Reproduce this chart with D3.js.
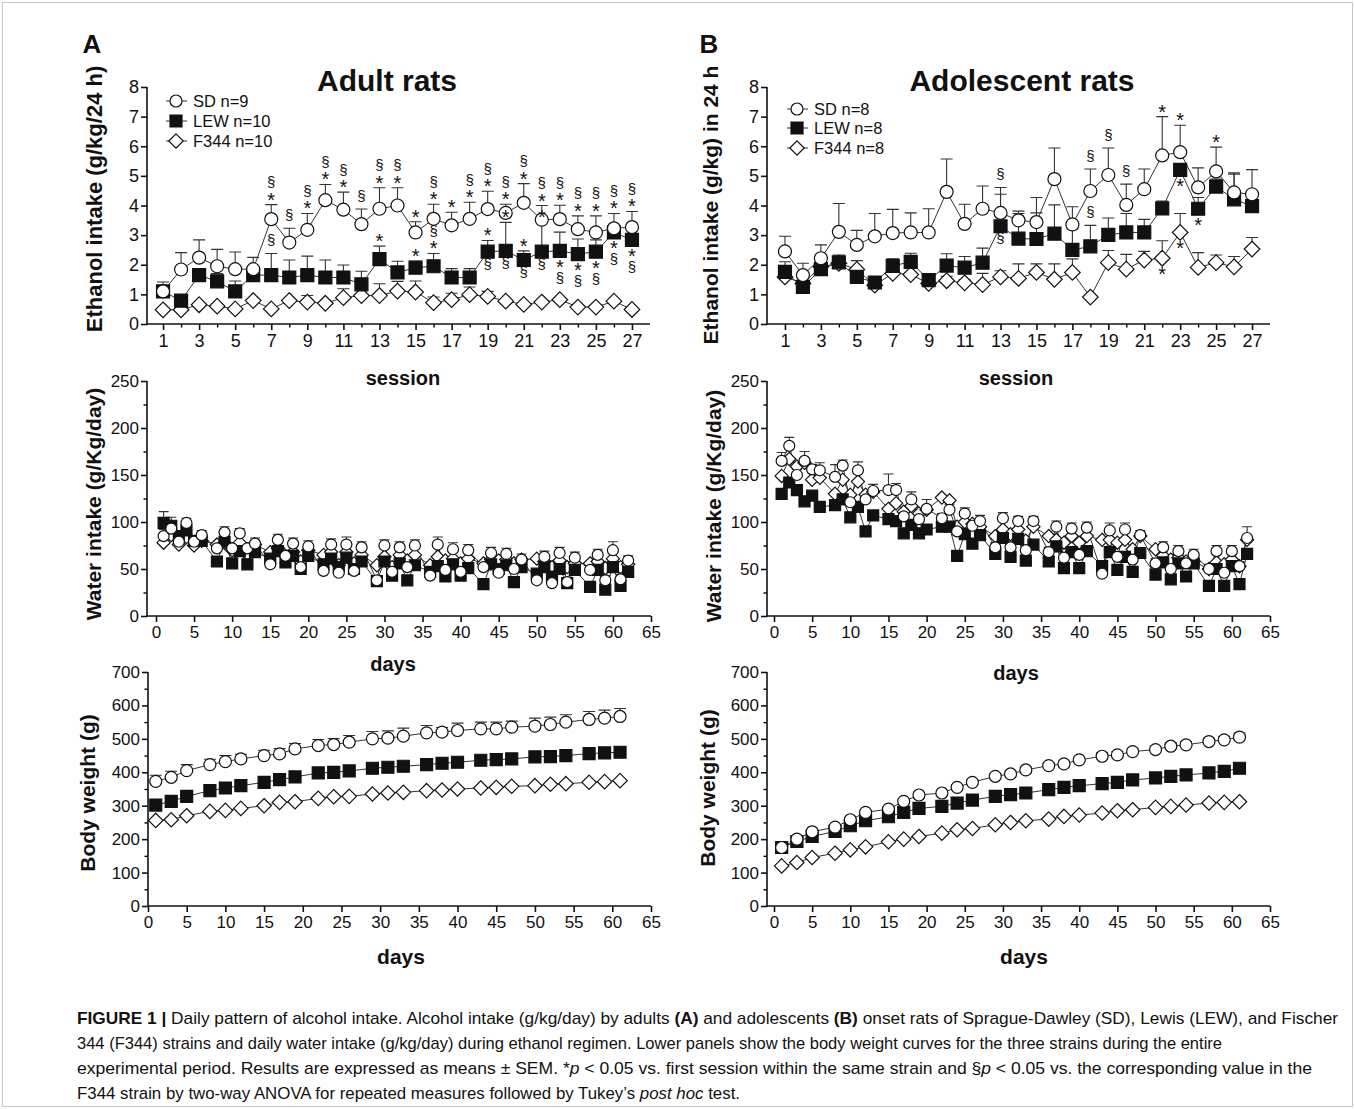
<!DOCTYPE html>
<html>
<head>
<meta charset="utf-8">
<script src="https://cdnjs.cloudflare.com/ajax/libs/d3/7.8.5/d3.min.js"></script>
<style>
body { margin: 0; background: #fff; }
svg text { font-family: "Liberation Sans", Arial, sans-serif; fill: #111; }
</style>
</head>
<body>
<div id="fig"></div>
<script>
// figure size
const W = 1355, H = 1109;

// ---- ethanol sessions ----
const sessions = [1,2,3,4,5,6,7,8,9,10,11,12,13,14,15,16,17,18,19,20,21,22,23,24,25,26,27];
const sessionTicks = [1,3,5,7,9,11,13,15,17,19,21,23,25,27];

// adult ethanol intake (g/kg/24 h), mean and SEM
const adultSD   = [1.10,1.84,2.24,1.95,1.85,1.85,3.54,2.75,3.18,4.18,3.86,3.37,3.89,4.00,3.09,3.55,3.33,3.55,3.88,3.75,4.09,3.52,3.54,3.20,3.09,3.23,3.27];
const adultSDe  = [0.32,0.57,0.60,0.57,0.58,0.40,0.49,0.48,0.55,0.53,0.59,0.51,0.71,0.60,0.36,0.49,0.44,0.56,0.60,0.29,0.65,0.48,0.47,0.45,0.56,0.50,0.53];
const adultLEW  = [1.10,0.79,1.65,1.44,1.10,1.65,1.65,1.57,1.65,1.57,1.57,1.34,2.19,1.74,1.90,1.95,1.57,1.57,2.44,2.47,2.16,2.44,2.47,2.36,2.44,3.09,2.84];
const adultLEWe = [0.00,0.00,0.19,0.26,0.35,0.05,0.73,0.59,0.64,0.59,0.42,0.44,0.44,0.38,0.22,0.43,0.30,0.30,0.38,0.96,0.31,0.99,0.63,0.51,0.40,0.11,0.00];
const adultF344 = [0.48,0.48,0.65,0.60,0.51,0.79,0.51,0.79,0.74,0.70,0.89,0.96,0.96,1.11,1.08,0.72,0.82,0.99,0.93,0.77,0.66,0.74,0.82,0.57,0.57,0.77,0.49];
const adultF344e= [0.00,0.00,0.00,0.00,0.00,0.00,0.00,0.00,0.22,0.00,0.30,0.00,0.40,0.33,0.37,0.19,0.22,0.26,0.17,0.00,0.00,0.00,0.00,0.00,0.00,0.00,0.00];

// adolescent ethanol intake (g/kg in 24 h)
const adolSD    = [2.45,1.65,2.22,3.11,2.67,2.96,3.07,3.09,3.09,4.46,3.38,3.89,3.75,3.50,3.44,4.89,3.36,4.49,5.03,4.02,4.55,5.69,5.80,4.61,5.15,4.44,4.38];
const adolSDe   = [0.51,0.40,0.45,0.96,0.49,0.77,0.80,0.66,0.80,1.11,0.66,0.77,0.86,0.31,0.83,1.05,0.60,0.74,0.91,0.70,0.68,1.31,0.91,0.66,0.82,0.66,0.83];
const adolLEW   = [1.76,1.25,1.85,2.08,1.59,1.40,1.96,2.10,1.48,1.97,1.90,2.07,3.30,2.88,2.87,3.05,2.50,2.62,3.01,3.09,3.09,3.90,5.20,3.89,4.64,4.21,3.98];
const adolLEWe  = [0.34,0.00,0.31,0.25,0.00,0.19,0.24,0.29,0.11,0.40,0.38,0.49,1.08,0.85,0.88,0.97,0.71,0.71,0.57,0.64,0.44,0.25,0.15,0.38,0.25,0.85,0.00];
const adolF344  = [1.59,1.37,1.93,2.05,1.84,1.31,1.71,1.67,1.37,1.46,1.39,1.33,1.59,1.54,1.74,1.51,1.74,0.91,2.07,1.85,2.16,2.22,3.09,1.91,2.07,1.93,2.53];
const adolF344e = [0.00,0.00,0.00,0.10,0.30,0.00,0.00,0.00,0.00,0.15,0.10,0.38,0.21,0.49,0.29,0.52,0.46,0.00,0.41,0.50,0.29,0.59,0.64,0.50,0.26,0.35,0.39];

// significance marks: [session, marks from top to bottom]
const adultSDAbove  = [[7,"§*"],[8,"§"],[9,"§*"],[10,"§*"],[11,"§*"],[12,"§"],[13,"§*"],[14,"§*"],[15,"*"],[16,"§*"],[17,"*"],[18,"§*"],[19,"§*"],[20,"§*"],[21,"§*"],[22,"§*"],[23,"§*"],[24,"§*"],[25,"§*"],[26,"§*"],[27,"§*"]];
const adultLEWAbove = [[7,"§"],[13,"*"],[15,"*"],[16,"§*"],[19,"*"],[20,"*"],[21,"*"],[22,"*"]];
const adultLEWBelow = [[19,"§"],[20,"§"],[21,"§"],[22,"§"],[23,"*§"],[24,"*§"],[25,"*§"],[26,"*§"],[27,"*§"]];
const adolSDAbove   = [[13,"§"],[18,"§"],[19,"§"],[20,"§"],[22,"*"],[23,"*"],[25,"*"]];
const adolLEWAbove  = [[18,"§"]];
const adolLEWBelow  = [[13,"§"],[23,"*"],[24,"*"]];
const adolF344Below = [[22,"*"],[23,"*"]];

// ---- water intake (g/Kg/day) ----
const waterDays = [1,2,3,4,5,6, 8,9,10,11,12,13, 15,16,17,18,19,20, 22,23,24,25,26,27,
                   29,30,31,32,33,34, 36,37,38,39,40,41, 43,44,45,46,47,48, 50,51,52,53,54,55, 57,58,59,60,61,62];
const adultWaterSD = [85,93,79,99,79,86, 72,89,72,88,72,77, 55,81,64,77,52,74, 48,76,46,76,48,73,
                      38,75,47,73,52,75, 43,76,49,71,47,70, 52,67,46,66,50,60, 38,63,35,67,36,62, 49,65,38,70,39,59];
const adultWaterSDe = [7,6,5,5,5,5, 6,6,6,5,6,6, 5,6,5,6,5,6, 5,6,5,8,5,6,
                       5,6,5,6,5,6, 5,8,5,7,5,6, 5,6,5,6,5,6, 5,6,5,6,5,6, 5,6,5,9,5,5];
const adultWaterLEW = [99,96,85,91,80,80, 58,79,56,69,55,68, 61,69,57,64,50,64, 55,61,52,62,50,58,
                       37,58,43,56,38,54, 47,53,42,55,43,51, 34,55,50,54,36,52, 45,52,42,50,35,49, 31,49,28,52,32,47];
const adultWaterLEWe = [12,9,0,0,0,4, 0,0,0,0,0,0, 0,0,0,0,0,0, 0,0,0,0,0,0,
                        0,0,0,0,0,0, 0,0,0,0,0,0, 0,0,0,0,0,0, 0,0,0,0,0,0, 0,0,0,0,0,0];
const adultWaterF344 = [78,86,76,84,75,80, 76,78,70,78,66,76, 68,72,64,68,58,70, 65,68,54,68,56,65,
                        54,63,52,65,59,65, 54,63,59,61,56,61, 56,60,59,60,56,60, 61,58,52,59,52,56, 56,58,51,61,52,55];
const adolWaterSD = [165,181,150,165,156,155, 148,160,121,155,124,133, 134,134,106,124,103,114, 104,113,90,109,96,101,
                     73,104,73,101,70,101, 68,95,62,93,65,94, 45,91,63,92,60,86, 56,73,50,69,56,65, 50,69,46,69,53,83];
const adolWaterSDe = [9,9,6,10,5,8, 13,6,6,9,5,7, 17,7,5,8,5,10, 5,6,5,6,5,6,
                      5,6,5,5,5,5, 5,6,5,6,5,6, 5,8,5,7,5,5, 5,6,5,6,5,6, 5,6,5,6,5,12];
const adolWaterLEW = [130,142,134,122,128,116, 118,124,105,116,90,107, 103,101,88,97,88,92, 95,95,64,87,77,86,
                      66,83,63,82,59,76, 58,74,51,68,51,69, 53,68,49,63,47,67, 44,57,39,56,42,56, 32,50,32,53,34,66];
const adolWaterF344 = [149,167,159,163,145,147, 130,145,129,143,129,132, 114,120,111,117,109,113, 126,123,95,100,98,95,
                       85,92,87,92,80,95, 85,81,78,85,78,85, 81,81,78,81,71,85, 71,64,60,62,58,58, 50,57,55,60,53,81];

// ---- body weight (g) ----
const weightDays = [1,3,5,8,10,12,15,17,19,22,24,26,29,31,33,36,38,40,43,45,47,50,52,54,57,59,61];
const adultBwSD   = [373,385,405,423,432,440,450,455,470,480,483,490,500,502,508,518,520,525,530,530,535,538,543,550,558,562,567];
const adultBwSDe  = [18,18,18,16,18,14,16,16,16,18,18,20,22,22,24,22,14,22,20,20,18,24,22,22,24,24,24];
const adultBwLEW  = [302,313,328,345,353,360,370,378,386,398,400,404,412,415,418,423,427,430,436,438,440,446,447,450,456,458,460];
const adultBwF344 = [256,258,270,283,286,292,300,310,312,322,327,328,335,338,340,345,347,350,353,355,358,360,364,366,370,372,375];
const adolBwSD    = [175,200,222,236,258,280,290,313,332,338,355,370,388,395,407,420,425,437,448,452,462,468,478,482,492,497,505];
const adolBwSDe   = [8,6,6,6,6,6,6,6,6,6,8,8,8,8,8,8,8,8,10,10,10,10,10,10,10,10,12];
const adolBwLEW   = [175,193,208,223,240,255,267,280,292,298,308,317,328,333,338,348,355,360,366,370,377,383,388,392,398,403,412];
const adolBwF344  = [120,130,145,158,168,177,192,200,208,218,228,232,243,250,255,260,268,272,278,285,288,295,298,302,308,310,312];

const dayTicks = [0,5,10,15,20,25,30,35,40,45,50,55,60,65];
const zeros27 = sessions.map(() => 0);
const zeros54 = waterDays.map(() => 0);

const svg = d3.select("#fig").append("svg")
    .attr("width", W)
    .attr("height", H);

svg.append("rect")
    .attr("x", 2.5).attr("y", 2.5)
    .attr("width", W - 5).attr("height", H - 5)
    .attr("fill", "none")
    .attr("stroke", "#c8c8c8");

// marker shapes
function symbolPath(kind, s) {
    if (kind === "square") return `M${-s},${-s}H${s}V${s}H${-s}Z`;
    if (kind === "diamond") { const d = s * 1.2; return `M0,${-d}L${d},0L0,${d}L${-d},0Z`; }
    return d3.symbol(d3.symbolCircle, Math.PI * s * s)();
}

// one text per stack of marks, one tspan per character
function drawMarks(g, x, y, list, ys, errs, below) {
    list.forEach(([s, str]) => {
        const i = s - 1;
        const cx = x(s);
        const centers = [];
        if (!below) {
            let c = y(ys[i] + errs[i]);
            str.split("").reverse().forEach((ch, k) => {
                c = k === 0 ? c - (ch === "*" ? 8 : 12) : c - 13.5;
                centers.unshift([ch, c]);
            });
        } else {
            let c = y(ys[i]);
            str.split("").forEach((ch, k) => {
                c = c + (k === 0 ? 13 : 15);
                centers.push([ch, c]);
            });
        }
        const t = g.append("text").attr("text-anchor", "middle");
        centers.forEach(([ch, cy]) => {
            t.append("tspan")
                .attr("x", cx)
                .attr("y", ch === "*" ? cy + 10 : cy + 4)
                .attr("font-size", ch === "*" ? 20 : 15)
                .text(ch);
        });
    });
}

function drawPanel(p) {
    const x = d3.scaleLinear().domain(p.xDomain).range(p.xRange);
    const y = d3.scaleLinear().domain(p.yDomain).range(p.yRange);
    const g = svg.append("g");
    const y0 = y(0);

    // y axis ticks
    const yAx = g.append("g")
        .attr("transform", `translate(${p.axisX},0)`)
        .call(d3.axisLeft(y).tickValues(p.yTicks).tickSize(6).tickPadding(2).tickSizeOuter(0));
    if (p.yMinor) {
        g.append("g")
            .attr("transform", `translate(${p.axisX},0)`)
            .call(d3.axisLeft(y).tickValues(p.yMinor).tickSize(3.5).tickFormat("").tickSizeOuter(0))
            .call(a => a.select(".domain").remove())
            .selectAll("line").attr("stroke-width", 1.4);
    }
    // x axis ticks
    const xAx = g.append("g")
        .attr("transform", `translate(0,${y0})`)
        .call(d3.axisBottom(x).tickValues(p.xTicks).tickSize(6).tickPadding(4).tickSizeOuter(0));
    if (p.xMinor) {
        g.append("g")
            .attr("transform", `translate(0,${y0})`)
            .call(d3.axisBottom(x).tickValues(p.xMinor).tickSize(3.5).tickFormat("").tickSizeOuter(0))
            .call(a => a.select(".domain").remove())
            .selectAll("line").attr("stroke-width", 1.4);
    }
    [yAx, xAx].forEach(a => {
        a.select(".domain").remove();
        a.attr("font-size", p.tickFont);
        a.selectAll("line").attr("stroke", "#111").attr("stroke-width", 1.6);
        a.selectAll("text").attr("fill", "#111");
    });

    // axis lines
    g.append("line")
        .attr("x1", p.axisX).attr("x2", p.axisX)
        .attr("y1", y(p.yDomain[1])).attr("y2", y0 + 0.8)
        .attr("stroke", "#111").attr("stroke-width", 1.6);
    g.append("line")
        .attr("x1", p.axisX).attr("x2", x(p.xDomain[1]))
        .attr("y1", y0).attr("y2", y0)
        .attr("stroke", "#111").attr("stroke-width", 1.6);

    // connecting lines
    const line = d3.line().x(d => x(d[0])).y(d => y(d[1]));
    p.series.forEach(s => {
        g.append("path")
            .datum(d3.zip(p.xs, s.ys))
            .attr("d", line)
            .attr("fill", "none")
            .attr("stroke", "#333")
            .attr("stroke-width", 1);
    });

    // error bars (upper only)
    p.series.forEach(s => {
        const pts = d3.zip(p.xs, s.ys, s.errs).filter(d => d[2] > 0);
        const eb = g.append("g").attr("stroke", "#333").attr("stroke-width", 1.1);
        eb.selectAll(null).data(pts).join("path")
            .attr("d", d => {
                const cx = x(d[0]), top = y(d[1] + d[2]);
                return `M${cx},${y(d[1])}V${top}M${cx - p.cap},${top}H${cx + p.cap}`;
            });
    });

    // markers
    p.series.forEach(s => {
        g.append("g").selectAll(null).data(d3.zip(p.xs, s.ys)).join("path")
            .attr("transform", d => `translate(${x(d[0])},${y(d[1])})`)
            .attr("d", symbolPath(s.kind, p.size))
            .attr("fill", s.kind === "square" ? "#111" : "#fff")
            .attr("stroke", "#111")
            .attr("stroke-width", 1.2);
    });

    // axis titles
    g.append("text")
        .attr("transform", `translate(${p.yLabelX},${p.yLabelY}) rotate(-90)`)
        .attr("text-anchor", "middle")
        .attr("font-size", p.yLabelFont || 21)
        .attr("font-weight", "bold")
        .text(p.yLabel);
    g.append("text")
        .attr("x", p.xLabelX).attr("y", p.xLabelY)
        .attr("text-anchor", "middle")
        .attr("font-size", p.xLabelFont)
        .attr("font-weight", "bold")
        .text(p.xLabel);

    return { g, x, y };
}

// ---------- A: adult ethanol ----------
const topA = drawPanel({
    xDomain: [0, 28], xRange: [145, 650], yDomain: [0, 8], yRange: [324, 87], axisX: 147,
    xTicks: sessionTicks, xMinor: [2,4,6,8,10,12,14,16,18,20,22,24,26], yTicks: [0,1,2,3,4,5,6,7,8],
    tickFont: 18, size: 6.5, cap: 6,
    xs: sessions,
    series: [
        { kind: "diamond", ys: adultF344, errs: adultF344e },
        { kind: "square", ys: adultLEW, errs: adultLEWe },
        { kind: "circle", ys: adultSD, errs: adultSDe }
    ],
    yLabel: "Ethanol intake (g/kg/24 h)", yLabelX: 102, yLabelY: 199, yLabelFont: 22,
    xLabel: "session", xLabelX: 403, xLabelY: 385, xLabelFont: 20
});
drawMarks(topA.g, topA.x, topA.y, adultSDAbove, adultSD, adultSDe, false);
drawMarks(topA.g, topA.x, topA.y, adultLEWAbove, adultLEW, adultLEWe, false);
drawMarks(topA.g, topA.x, topA.y, adultLEWBelow, adultLEW, adultLEWe, true);

// ---------- B: adolescent ethanol ----------
const topB = drawPanel({
    xDomain: [0, 28], xRange: [767, 1270], yDomain: [0, 8], yRange: [324, 87], axisX: 767,
    xTicks: sessionTicks, xMinor: [2,4,6,8,10,12,14,16,18,20,22,24,26], yTicks: [0,1,2,3,4,5,6,7,8],
    tickFont: 18, size: 6.5, cap: 6,
    xs: sessions,
    series: [
        { kind: "diamond", ys: adolF344, errs: adolF344e },
        { kind: "square", ys: adolLEW, errs: adolLEWe },
        { kind: "circle", ys: adolSD, errs: adolSDe }
    ],
    yLabel: "Ethanol intake (g/kg) in 24 h", yLabelX: 718, yLabelY: 205,
    xLabel: "session", xLabelX: 1016, xLabelY: 385, xLabelFont: 20
});
drawMarks(topB.g, topB.x, topB.y, adolSDAbove, adolSD, adolSDe, false);
drawMarks(topB.g, topB.x, topB.y, adolLEWAbove, adolLEW, adolLEWe, false);
drawMarks(topB.g, topB.x, topB.y, adolLEWBelow, adolLEW, adolLEWe, true);
drawMarks(topB.g, topB.x, topB.y, adolF344Below, adolF344, adolF344e, true);

// ---------- water intake ----------
drawPanel({
    xDomain: [0, 65], xRange: [156, 651], yDomain: [0, 250], yRange: [616, 381], axisX: 147,
    xTicks: dayTicks, yTicks: [0,50,100,150,200,250], yMinor: [25,75,125,175,225],
    tickFont: 17, size: 5.5, cap: 5,
    xs: waterDays,
    series: [
        { kind: "diamond", ys: adultWaterF344, errs: zeros54 },
        { kind: "square", ys: adultWaterLEW, errs: adultWaterLEWe },
        { kind: "circle", ys: adultWaterSD, errs: adultWaterSDe }
    ],
    yLabel: "Water intake (g/Kg/day)", yLabelX: 101, yLabelY: 504,
    xLabel: "days", xLabelX: 393, xLabelY: 671, xLabelFont: 20
});
drawPanel({
    xDomain: [0, 65], xRange: [774, 1270], yDomain: [0, 250], yRange: [616, 381], axisX: 767,
    xTicks: dayTicks, yTicks: [0,50,100,150,200,250], yMinor: [25,75,125,175,225],
    tickFont: 17, size: 5.5, cap: 5,
    xs: waterDays,
    series: [
        { kind: "diamond", ys: adolWaterF344, errs: zeros54 },
        { kind: "square", ys: adolWaterLEW, errs: zeros54 },
        { kind: "circle", ys: adolWaterSD, errs: adolWaterSDe }
    ],
    yLabel: "Water intake (g/Kg/day)", yLabelX: 721, yLabelY: 506,
    xLabel: "days", xLabelX: 1016, xLabelY: 680, xLabelFont: 20
});

// ---------- body weight ----------
drawPanel({
    xDomain: [0, 65], xRange: [148, 651], yDomain: [0, 700], yRange: [906, 672], axisX: 148,
    xTicks: dayTicks, yTicks: [0,100,200,300,400,500,600,700], yMinor: [50,150,250,350,450,550,650],
    tickFont: 17, size: 6, cap: 6,
    xs: weightDays,
    series: [
        { kind: "diamond", ys: adultBwF344, errs: zeros27 },
        { kind: "square", ys: adultBwLEW, errs: zeros27 },
        { kind: "circle", ys: adultBwSD, errs: adultBwSDe }
    ],
    yLabel: "Body weight (g)", yLabelX: 95, yLabelY: 793,
    xLabel: "days", xLabelX: 401, xLabelY: 964, xLabelFont: 21
});
drawPanel({
    xDomain: [0, 65], xRange: [774, 1270], yDomain: [0, 700], yRange: [906, 672], axisX: 767,
    xTicks: dayTicks, yTicks: [0,100,200,300,400,500,600,700], yMinor: [50,150,250,350,450,550,650],
    tickFont: 17, size: 6, cap: 6,
    xs: weightDays,
    series: [
        { kind: "diamond", ys: adolBwF344, errs: zeros27 },
        { kind: "square", ys: adolBwLEW, errs: zeros27 },
        { kind: "circle", ys: adolBwSD, errs: adolBwSDe }
    ],
    yLabel: "Body weight (g)", yLabelX: 715, yLabelY: 788,
    xLabel: "days", xLabelX: 1024, xLabelY: 964, xLabelFont: 21
});

// ---------- titles, panel letters, legends ----------
svg.append("text").attr("x", 387).attr("y", 91).attr("text-anchor", "middle")
    .attr("font-size", 30).attr("font-weight", "bold").text("Adult rats");
svg.append("text").attr("x", 1022).attr("y", 91).attr("text-anchor", "middle")
    .attr("font-size", 30).attr("font-weight", "bold").text("Adolescent rats");
svg.append("text").attr("x", 92).attr("y", 53).attr("text-anchor", "middle")
    .attr("font-size", 26).attr("font-weight", "bold").text("A");
svg.append("text").attr("x", 709).attr("y", 53).attr("text-anchor", "middle")
    .attr("font-size", 26).attr("font-weight", "bold").text("B");

const legendAdult = ["SD n=9", "LEW n=10", "F344 n=10"];
const legendAdol = ["SD n=8", "LEW n=8", "F344 n=8"];
const legendKinds = ["circle", "square", "diamond"];

function legend(labels, x0, rows) {
    const lg = svg.append("g");
    labels.forEach((t, i) => {
        lg.append("line").attr("x1", x0 - 10).attr("x2", x0 + 11)
            .attr("y1", rows[i]).attr("y2", rows[i]).attr("stroke", "#333");
        lg.append("path").attr("transform", `translate(${x0},${rows[i]})`)
            .attr("d", symbolPath(legendKinds[i], 6))
            .attr("fill", legendKinds[i] === "square" ? "#111" : "#fff")
            .attr("stroke", "#111").attr("stroke-width", 1.2);
        lg.append("text").attr("x", x0 + 17).attr("y", rows[i] + 6)
            .attr("font-size", 16.5).text(t);
    });
}
legend(legendAdult, 176, [101, 121, 141]);
legend(legendAdol, 797, [109, 128, 148]);

// ---------- caption ----------
const captionLines = [
    { y: 1024, len: 1261, parts: [["FIGURE 1 | ", "b"], ["Daily pattern of alcohol intake. Alcohol intake (g/kg/day) by adults ", ""], ["(A)", "b"], [" and adolescents ", ""], ["(B)", "b"], [" onset rats of Sprague-Dawley (SD), Lewis (LEW), and Fischer", ""]] },
    { y: 1049, len: 1145, parts: [["344 (F344) strains and daily water intake (g/kg/day) during ethanol regimen. Lower panels show the body weight curves for the three strains during the entire", ""]] },
    { y: 1074, len: 1235, parts: [["experimental period. Results are expressed as means \u00b1 SEM. *", ""], ["p", "i"], [" < 0.05 vs. first session within the same strain and \u00a7", ""], ["p", "i"], [" < 0.05 vs. the corresponding value in the", ""]] },
    { y: 1099, len: 663, parts: [["F344 strain by two-way ANOVA for repeated measures followed by Tukey\u2019s ", ""], ["post hoc", "i"], [" test.", ""]] }
];
captionLines.forEach(l => {
    const t = svg.append("text")
        .attr("x", 77).attr("y", l.y)
        .attr("font-size", 17)
        .attr("textLength", l.len)
        .attr("lengthAdjust", "spacingAndGlyphs")
        .style("font-family", "'Liberation Sans Narrow', 'Liberation Sans', Arial, sans-serif")
        .attr("fill", "#222");
    l.parts.forEach(([s, st]) => {
        t.append("tspan")
            .attr("font-weight", st === "b" ? "bold" : null)
            .attr("font-style", st === "i" ? "italic" : null)
            .text(s);
    });
});
</script>
</body>
</html>
